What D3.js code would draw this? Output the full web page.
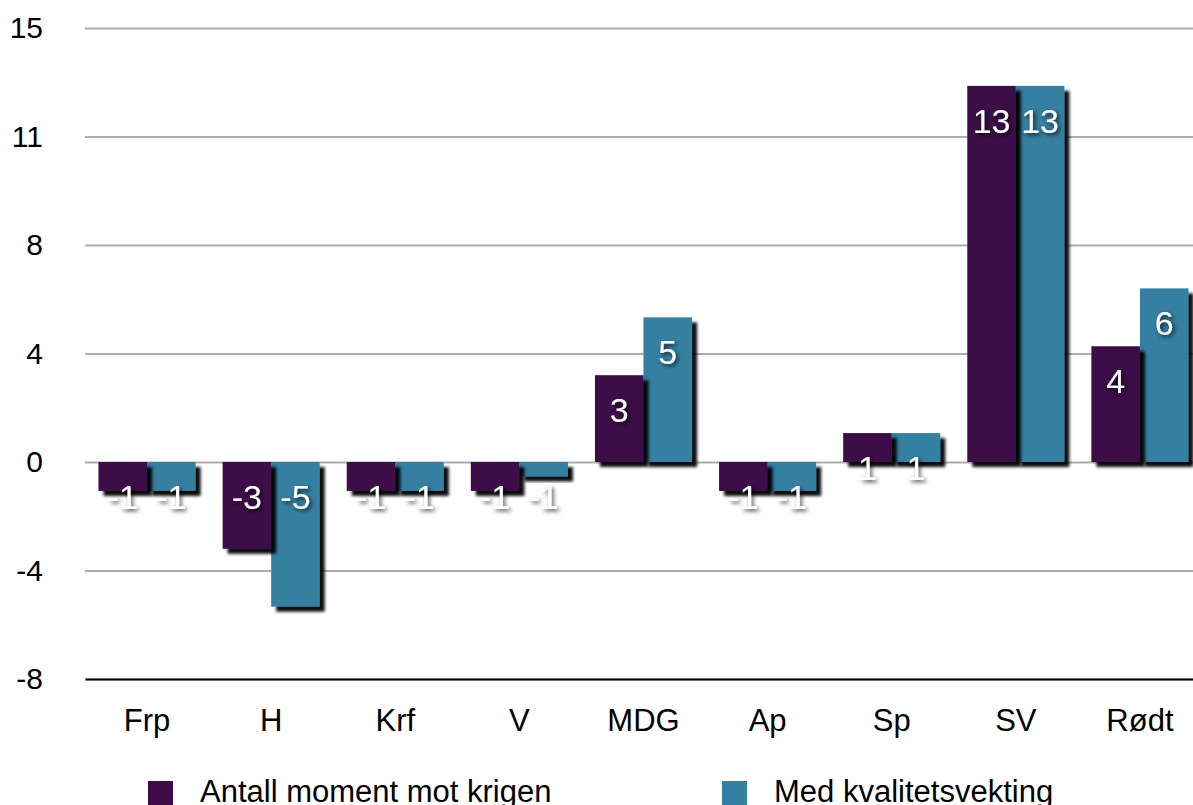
<!DOCTYPE html>
<html>
<head>
<meta charset="utf-8">
<script src="https://cdn.jsdelivr.net/npm/d3@7"></script>
<style>
  body { margin: 0; background: #fff; }
  svg { display: block; font-family: 'Liberation Sans', Arial, Helvetica, sans-serif; }
</style>
</head>
<body>
<div id="chart"></div>
<script>
const categories = ['Frp', 'H', 'Krf', 'V', 'MDG', 'Ap', 'Sp', 'SV', 'Rødt']
const momentValues = [-1, -3, -1, -1, 3, -1, 1, 13, 4]
const kvalitetValues = [-1, -5, -1, -0.5, 5, -1, 1, 13, 6]
const seriesNames = ['Antall moment mot krigen', 'Med kvalitetsvekting']
const yTicks = [-7.5, -3.75, 0, 3.75, 7.5, 11.25, 15]
const yTickLabels = ['-8', '-4', '0', '4', '8', '11', '15']

const margin = { top: 28, left: 85, right: 0, bottom: 126 }
const svgWidth = 1193
const svgHeight = 805
const height = svgHeight - margin.top - margin.bottom
const width = 1117 // band range runs a little past the right edge, like the original

const colors = ['#3d0b46', '#357fa0']

const svg = d3
  .select('#chart')
  .append('svg')
  .attr('width', svgWidth)
  .attr('height', svgHeight)

const defs = svg.append('defs')
defs
  .append('filter')
  .attr('id', 'bar-shadow')
  .attr('x', '-20%').attr('y', '-20%')
  .attr('width', '160%').attr('height', '160%')
  .append('feDropShadow')
  .attr('dx', 5).attr('dy', 5)
  .attr('stdDeviation', 1.5)
  .attr('flood-color', '#000')
  .attr('flood-opacity', 0.95)
defs
  .append('filter')
  .attr('id', 'text-shadow')
  .attr('x', '-50%').attr('y', '-50%')
  .attr('width', '200%').attr('height', '200%')
  .append('feDropShadow')
  .attr('dx', 2).attr('dy', 2)
  .attr('stdDeviation', 2.2)
  .attr('flood-color', '#000')
  .attr('flood-opacity', 0.75)

const g = svg
  .append('g')
  .attr('transform', 'translate(' + margin.left + ',' + margin.top + ')')

const yScale = d3.scaleLinear().domain([-7.5, 15]).range([height, 0])
const xScale = d3.scaleBand().domain(categories).range([0, width])
const xSub = d3
  .scaleBand()
  .domain([0, 1])
  .range([13.5, xScale.bandwidth() - 13.5])

// gridlines + y labels
const yAxis = d3
  .axisLeft(yScale)
  .tickValues(yTicks)
  .tickFormat((d, i) => yTickLabels[i])
  .tickSizeInner(-(svgWidth - margin.left))
  .tickSizeOuter(0)
  .tickPadding(42)

g.append('g')
  .attr('class', 'y-axis')
  .call(yAxis)
  .call(ax => ax.select('.domain').remove())
  .call(ax => ax.selectAll('line').attr('stroke', '#adadad').attr('stroke-width', 2))
  .call(ax =>
    ax.selectAll('text')
      .attr('fill', '#000')
      .style('font-size', '30px')
      .style('font-family', "'Liberation Sans', Arial, sans-serif")
  )

// x axis
const xAxis = d3.axisBottom(xScale).tickSize(0).tickPadding(30)
g.append('g')
  .attr('class', 'x-axis')
  .attr('transform', 'translate(0,' + height + ')')
  .call(xAxis)
  .call(ax => ax.select('.domain').attr('stroke', '#000').attr('stroke-width', 2))
  .call(ax =>
    ax.selectAll('text')
      .attr('fill', '#000')
      .style('font-size', '31px')
      .style('font-family', "'Liberation Sans', Arial, sans-serif")
  )

const rows = categories.map((c, i) => ({
  category: c,
  values: [momentValues[i], kvalitetValues[i]]
}))

function labelText(v) {
  return (v < 0 ? '-' : '') + Math.round(Math.abs(v))
}

// teal drawn first so the purple shadow falls on top of it
const seriesOrder = [1, 0]

seriesOrder.forEach(s => {
  g.selectAll('.bar-' + s)
    .data(rows)
    .enter()
    .append('rect')
    .attr('class', 'bar-' + s)
    .attr('x', d => xScale(d.category) + xSub(s))
    .attr('width', xSub.bandwidth())
    .attr('y', d => yScale(Math.max(0, d.values[s])))
    .attr('height', d => Math.abs(yScale(d.values[s]) - yScale(0)))
    .attr('fill', colors[s])
    .attr('filter', 'url(#bar-shadow)')
})

seriesOrder.forEach(s => {
  g.selectAll('.label-' + s)
    .data(rows)
    .enter()
    .append('text')
    .attr('class', 'label-' + s)
    .text(d => labelText(d.values[s]))
    .attr('x', d => xScale(d.category) + xSub(s) + xSub.bandwidth() / 2)
    .attr('y', d => yScale(Math.max(0, d.values[s])) + 47)
    .attr('text-anchor', 'middle')
    .attr('fill', '#fff')
    .attr('filter', 'url(#text-shadow)')
    .style('font-size', '34px')
})

// legend
const legend = svg.append('g').attr('class', 'legend')
const legendX = [148, 722]
seriesNames.forEach((name, i) => {
  legend
    .append('rect')
    .attr('x', legendX[i])
    .attr('y', 781)
    .attr('width', 25)
    .attr('height', 25)
    .attr('fill', colors[i])
  legend
    .append('text')
    .attr('x', legendX[i] + 52)
    .attr('y', 802)
    .text(name)
    .attr('fill', '#000')
    .style('font-size', '31px')
})
</script>
</body>
</html>
